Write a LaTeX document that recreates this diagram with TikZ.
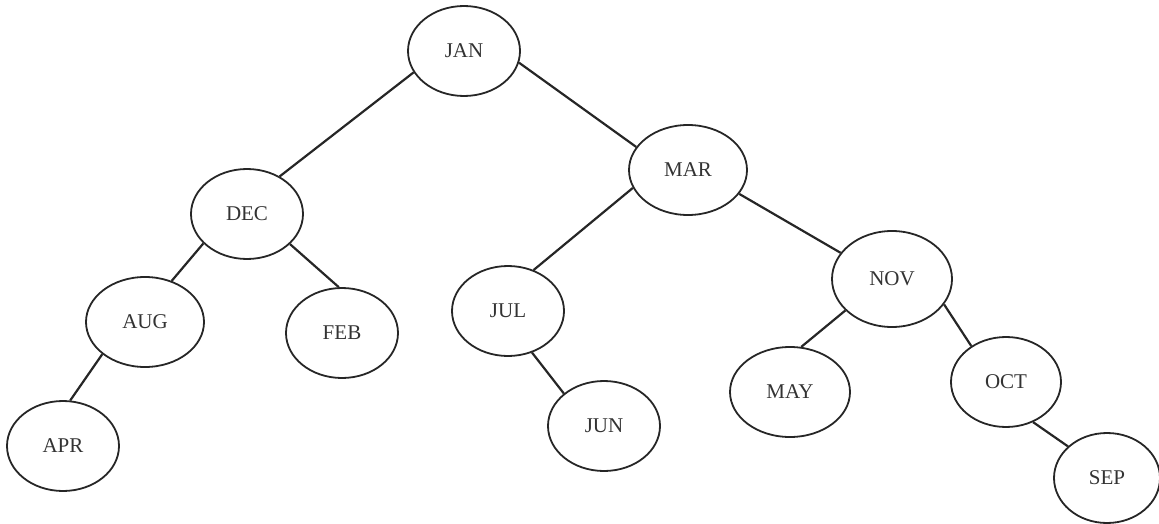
\documentclass[tikz,border=0pt]{standalone}
\usepackage{fontspec}
\setmainfont{Liberation Serif}
\usetikzlibrary{shapes.geometric}
\begin{document}
\begin{tikzpicture}[x=1pt,y=-1pt,
  month/.style={ellipse,draw=black!85,line width=1.8pt,minimum width=112pt,minimum height=90pt,inner sep=0pt,font=\fontsize{21}{24}\selectfont,text=black!80},
  link/.style={draw=black!85,line width=2.2pt}]
\useasboundingbox (0,0) rectangle (1159,524);
\node[month] (JAN) at (464,51) {JAN};
\node[month] (DEC) at (247,214) {DEC};
\node[month,minimum width=118pt] (MAR) at (688,170) {MAR};
\node[month,minimum width=118pt] (AUG) at (145,322) {AUG};
\node[month] (FEB) at (342,333) {FEB};
\node[month] (JUL) at (508,311) {JUL};
\node[month] (JUN) at (604,426) {JUN};
\node[month,minimum width=120pt,minimum height=96pt] (NOV) at (892,279) {NOV};
\node[month,minimum width=120pt] (MAY) at (790,392) {MAY};
\node[month,minimum width=110pt] (OCT) at (1006,382) {OCT};
\node[month,minimum width=106pt] (SEP) at (1107,478) {SEP};
\node[month] (APR) at (63,446) {APR};
\draw[link] (JAN.-12) -- (MAR.156);
\draw[link] (JAN.203) -- (DEC.49);
\draw[link] (DEC.214) -- (AUG.57);
\draw[link] (DEC.-35) -- (FEB.94);
\draw[link] (AUG.-143) -- (APR.81);
\draw[link] (MAR.-162) -- (JUL.58);
\draw[link] (MAR.-25) -- (NOV.153);
\draw[link] (JUL.-60) -- (JUN.141);
\draw[link] (NOV.214) -- (MAY.76);
\draw[link] (NOV.-26) -- (OCT.134);
\draw[link] (OCT.-56) -- (SEP.141);
\end{tikzpicture}
\end{document}
